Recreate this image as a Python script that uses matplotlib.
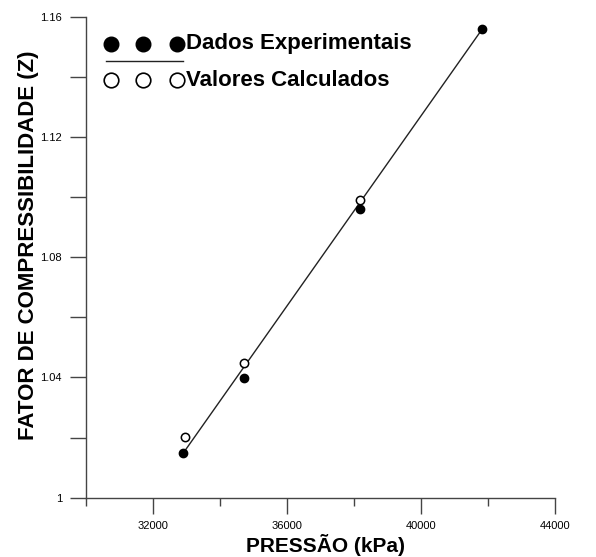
import matplotlib
matplotlib.use("Agg")
import matplotlib.pyplot as plt
from matplotlib.lines import Line2D

plt.rcParams['font.family'] = ['Liberation Sans', 'DejaVu Sans']

# Data
pressao_exp = [32900, 34730, 38180, 41830]
z_exp = [1.0148, 1.0398, 1.0959, 1.1559]
pressao_calc = [32960, 34720, 38180]
z_calc = [1.0201, 1.0448, 1.0990]
linha_x = [32910, 41830]
linha_y = [1.0148, 1.1559]

x_major = [32000, 36000, 40000, 44000]
x_minor = [30000, 34000, 38000, 42000]
y_major = [1.0, 1.04, 1.08, 1.12, 1.16]
y_labels = ['1', '1.04', '1.08', '1.12', '1.16']
y_minor = [1.02, 1.06, 1.10, 1.14]

W, H = 596, 557
fig = plt.figure(figsize=(W / 100, H / 100), dpi=100)
left, right, top, bottom = 85.6, 555.0, 16.7, 497.7
ax = fig.add_axes([left / W, 1 - bottom / H, (right - left) / W, (bottom - top) / H])

ax.plot(linha_x, linha_y, color='#222222', lw=1.0, zorder=2)
ax.plot(pressao_exp, z_exp, 'o', color='black', ms=6, zorder=3)
ax.plot(pressao_calc, z_calc, 'o', mfc='white', mec='black', mew=1.1, ms=6, zorder=4)

ax.set_xlim(30000, 44000)
ax.set_ylim(1.0, 1.16)
ax.set_xticks(x_major)
ax.set_xticklabels([str(v) for v in x_major])
ax.set_xticks(x_minor, minor=True)
ax.set_yticks(y_major)
ax.set_yticklabels(y_labels)
ax.set_yticks(y_minor, minor=True)

for s in ['top', 'right']:
    ax.spines[s].set_visible(False)
for s in ['left', 'bottom']:
    ax.spines[s].set_color('#444444')
    ax.spines[s].set_linewidth(1.0)

ax.tick_params(axis='x', which='major', direction='out', length=11.5, width=1.0,
               color='#444444', labelsize=8, pad=5)
ax.tick_params(axis='x', which='minor', direction='out', length=6, width=1.0, color='#444444')
ax.tick_params(axis='y', which='both', direction='out', length=11.5, width=1.0,
               color='#444444', labelsize=8, pad=5.5)

fig.text(325 / W, 1 - 552 / H, 'PRESSÃO (kPa)', ha='center', va='baseline',
         fontsize=15, fontweight='bold')
fig.text(29 / W, 1 - 245 / H, 'FATOR DE COMPRESSIBILIDADE (Z)', ha='center', va='center',
         rotation=90, fontsize=16, fontweight='bold')

# Legend (drawn manually)
def fx(px):
    return px / W

def fy(py):
    return 1 - py / H

leg_x = [110.7, 143.3, 177.3]
fig.add_artist(Line2D([fx(p) for p in leg_x], [fy(43.5)] * 3, ls='none', marker='o',
                      color='black', ms=10.5, transform=fig.transFigure))
fig.add_artist(Line2D([fx(p) for p in leg_x], [fy(80)] * 3, ls='none', marker='o',
                      mfc='white', mec='black', mew=1.2, ms=10.5, transform=fig.transFigure))
fig.add_artist(Line2D([fx(105.7), fx(182.7)], [fy(60.7)] * 2, color='#222222', lw=1.0,
                      transform=fig.transFigure))
fig.text(fx(186.5), fy(44), 'Dados Experimentais', ha='left', va='center',
         fontsize=16, fontweight='bold')
fig.text(fx(186.5), fy(80), 'Valores Calculados', ha='left', va='center',
         fontsize=16, fontweight='bold')

fig.savefig('out.png', dpi=100)
